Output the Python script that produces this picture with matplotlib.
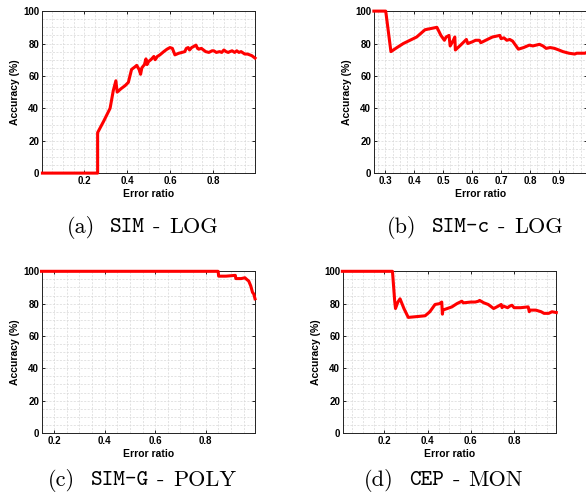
import numpy as np
import matplotlib
matplotlib.use("Agg")
import matplotlib.pyplot as plt
from matplotlib.ticker import MultipleLocator

plt.rcParams['font.family'] = ['Liberation Sans', 'DejaVu Sans']

# (a) SIM - LOG
x_a = [0.005, 0.262, 0.262, 0.29, 0.32, 0.335, 0.347, 0.353, 0.37, 0.39, 0.405, 0.42, 0.435,
       0.444, 0.455, 0.462, 0.468, 0.48, 0.487, 0.492, 0.50, 0.51, 0.524, 0.53, 0.54, 0.552,
       0.57, 0.585, 0.599, 0.61, 0.622, 0.64, 0.655, 0.668, 0.675, 0.684, 0.69, 0.70, 0.707,
       0.72, 0.727, 0.733, 0.745, 0.755, 0.765, 0.78, 0.795, 0.803, 0.815, 0.83, 0.84, 0.85,
       0.86, 0.87, 0.878, 0.888, 0.90, 0.91, 0.92, 0.93, 0.947, 0.96, 0.97, 0.98, 0.995]
y_a = [0, 0, 25, 32, 40, 51, 57, 50, 52, 54, 56, 64, 65.5,
       66.5, 64, 61, 65, 67, 70.5, 67, 69, 70, 72, 70, 72, 73,
       75, 76.5, 77.5, 77, 73, 74, 74.5, 75, 77, 77.5, 76, 77.5, 78,
       79, 77, 76.5, 77, 76, 75, 74.5, 75.5, 75.5, 74.5, 75, 74.5, 76,
       75, 74.5, 75, 75.5, 74.5, 75.5, 74.5, 75, 73.5, 73.5, 73, 72.5, 71]

# (b) SIM-c - LOG
x_b = [0.26, 0.301, 0.319, 0.34, 0.362, 0.385, 0.408, 0.437, 0.478, 0.492, 0.504, 0.51, 0.52,
       0.524, 0.535, 0.54, 0.542, 0.56, 0.58, 0.585, 0.60, 0.612, 0.625, 0.63, 0.647, 0.67,
       0.696, 0.70, 0.71, 0.72, 0.73, 0.74, 0.75, 0.76, 0.778, 0.798, 0.81, 0.833, 0.845,
       0.856, 0.87, 0.885, 0.90, 0.914, 0.935, 0.955, 0.962, 0.975, 0.99, 0.997]
y_b = [100, 100, 75, 77.5, 80, 82, 84, 88.5, 90, 85, 82, 84, 85,
       78.5, 82, 84, 76, 79, 82.5, 80, 81, 82, 82, 80.5, 82, 84,
       85, 83, 83.5, 82, 82.5, 81.5, 79, 76.5, 77.5, 79, 78.5, 79.5, 78.5,
       77, 77.5, 77, 76, 75, 74, 73.5, 74, 74, 74, 74.5]

# (c) SIM-G - POLY
x_c = [0.15, 0.849, 0.851, 0.88, 0.917, 0.919, 0.94, 0.955, 0.962, 0.97, 0.978, 0.985, 0.99, 0.995]
y_c = [100, 100, 97, 97, 97.5, 95.5, 95.5, 96, 95, 94, 91, 87, 86, 83]

# (d) CEP - MON
x_d = [0.005, 0.237, 0.247, 0.251, 0.262, 0.272, 0.29, 0.31, 0.35, 0.388, 0.41, 0.434, 0.455,
       0.465, 0.468, 0.47, 0.48, 0.512, 0.535, 0.558, 0.565, 0.60, 0.62, 0.635, 0.64, 0.66,
       0.68, 0.705, 0.72, 0.74, 0.744, 0.75, 0.77, 0.78, 0.79, 0.80, 0.83, 0.865, 0.87, 0.875,
       0.9, 0.925, 0.938, 0.96, 0.975, 0.995]
y_d = [100, 100, 82, 77, 81, 83, 77, 71.5, 72, 72.5, 75, 79.5, 80,
       81, 73.5, 76, 76.5, 78, 80, 81.5, 80.5, 81, 81, 81.5, 82, 80.5,
       79.5, 77, 78, 79.5, 77.5, 78.5, 77.5, 78.5, 79, 77.5, 77.5, 78, 75, 76,
       76, 75, 74, 74, 75, 74.5]

# caption pieces: (label, typewriter part, method)
captions = [("(a)", "SIM", "LOG"), ("(b)", "SIM-c", "LOG"),
            ("(c)", "SIM-G", "POLY"), ("(d)", "CEP", "MON")]

panels = [
    # x, y, xlim, xmajor, xminor, axes rect, caption pos
    (x_a, y_a, (0.003, 0.995), 0.2, 0.05, [0.0717, 0.651, 0.3635, 0.3266], (0.243, 0.542)),
    (x_b, y_b, (0.26, 0.997), 0.1, 0.025, [0.638, 0.651, 0.3635, 0.3266], (0.810, 0.542)),
    (x_c, y_c, (0.152, 0.995), 0.2, 0.05, [0.0717, 0.127, 0.3635, 0.326], (0.243, 0.032)),
    (x_d, y_d, (0.008, 0.995), 0.2, 0.05, [0.5853, 0.127, 0.364, 0.326], (0.757, 0.032)),
]

fig = plt.figure(figsize=(5.86, 4.96), dpi=100)

cap_size = 16
cap_texts = []
for (x, y, xl, xmaj, xmin, rect, cpos), cap in zip(panels, captions):
    ax = fig.add_axes(rect)
    ax.plot(x, y, color='red', linewidth=2.2, clip_on=False, zorder=5)
    ax.set_xlim(*xl)
    ax.set_ylim(0, 100)
    ax.xaxis.set_major_locator(MultipleLocator(xmaj))
    ax.xaxis.set_minor_locator(MultipleLocator(xmin))
    ax.yaxis.set_major_locator(MultipleLocator(20))
    ax.yaxis.set_minor_locator(MultipleLocator(5))
    ax.grid(which='both', color='#d8d8d8', linestyle=(0, (3, 2)), linewidth=0.5)
    ax.set_axisbelow(True)
    ax.tick_params(which='major', direction='in', length=2.5, width=0.6,
                   top=True, right=True, labelsize=7, pad=2)
    ax.tick_params(which='minor', length=0)
    for lab in ax.get_xticklabels() + ax.get_yticklabels():
        lab.set_fontweight('bold')
    for sp in ax.spines.values():
        sp.set_linewidth(0.7)
        sp.set_color('#222222')
    ax.set_xlabel('Error ratio', fontsize=7.5, fontweight='bold', labelpad=2)
    ax.set_ylabel('Accuracy (%)', fontsize=7.5, fontweight='bold', labelpad=2)

    parts = [fig.text(0, cpos[1], cap[0], family='cmr10', fontsize=cap_size, va='center'),
             fig.text(0, cpos[1], cap[1], family='cmtt10', fontsize=cap_size, va='center'),
             fig.text(0, cpos[1], "-", family='cmr10', fontsize=cap_size, va='center'),
             fig.text(0, cpos[1], cap[2], family='cmr10', fontsize=cap_size, va='center')]
    cap_texts.append((cpos[0], parts))

# lay out caption pieces side by side, centred
fig.canvas.draw()
r = fig.canvas.get_renderer()
em = cap_size * fig.dpi / 72.0
gaps = [0.7 * em, 0.36 * em, 0.4 * em]
fw = fig.bbox.width
for cx, parts in cap_texts:
    widths = [p.get_window_extent(r).width for p in parts]
    total = sum(widths) + sum(gaps)
    xpos = cx * fw - total / 2
    for i, p in enumerate(parts):
        p.set_x(xpos / fw)
        xpos += widths[i] + (gaps[i] if i < len(gaps) else 0)

fig.savefig('out.png', dpi=100)
